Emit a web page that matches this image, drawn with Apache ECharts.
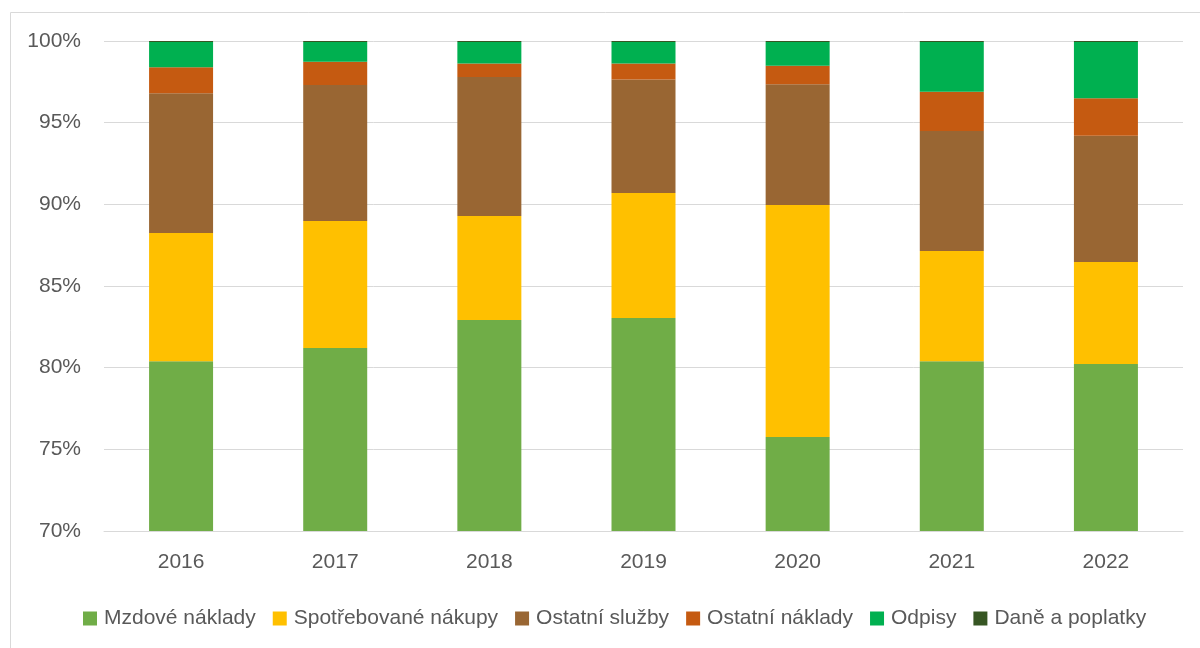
<!DOCTYPE html>
<html>
<head>
<meta charset="utf-8">
<script src="https://cdn.jsdelivr.net/npm/echarts@6/dist/echarts.min.js"></script>
<style>html,body{margin:0;padding:0;background:#fff}#c{width:1200px;height:648px}</style>
</head>
<body>
<div id="c"></div>
<script>
const years = ['2016','2017','2018','2019','2020','2021','2022'];
const mzdove = [80.40, 81.20, 82.92, 83.04, 75.75, 80.40, 80.22];
const spotrebovane = [7.84, 7.78, 6.36, 7.65, 14.21, 6.74, 6.25];
const sluzby = [8.56, 8.32, 8.52, 6.96, 7.39, 7.35, 7.73];
const ostatniNaklady = [1.60, 1.43, 0.83, 0.98, 1.14, 2.41, 2.29];
const odpisy = [1.54, 1.21, 1.31, 1.31, 1.45, 3.04, 3.45];
const dane = [0.06, 0.06, 0.06, 0.06, 0.06, 0.06, 0.06];
const yTicks = [70, 75, 80, 85, 90, 95, 100];

const names = ['Mzdové náklady','Spotřebované nákupy','Ostatní služby','Ostatní náklady','Odpisy','Daně a poplatky'];
const colors = ['#70AD47','#FFC000','#996633','#C55A11','#00B050','#375623'];
const dataSets = [mzdove, spotrebovane, sluzby, ostatniNaklady, odpisy, dane];
const font = 'Liberation Sans';

const chart = echarts.init(document.getElementById('c'));
chart.setOption({
  animation: false,
  color: colors,
  graphic: [{type:'rect', shape:{x:10.5,y:12.5,width:1200,height:648}, style:{fill:'none', stroke:'#d9d9d9', lineWidth:1}, silent:true}],
  grid: {left:104, right:17, top:41, bottom:117},
  legend: {
    top: 603, left: 78,
    itemWidth: 14, itemHeight: 14, itemGap: 17,
    icon: 'rect',
    textStyle: {fontFamily: font, fontSize: 21, color:'#595959', padding:[0,0,0,2]},
    data: names
  },
  xAxis: {
    type: 'category', data: years,
    axisLine: {lineStyle:{color:'#d9d9d9'}},
    axisTick: {show:false},
    axisLabel: {fontFamily: font, fontSize: 21, color:'#595959', margin: 21}
  },
  yAxis: {
    type: 'value', min: yTicks[0], max: yTicks[yTicks.length-1], interval: 5,
    axisLine: {show:false}, axisTick:{show:false},
    splitLine: {lineStyle:{color:'#d9d9d9', width:1}},
    axisLabel: {fontFamily: font, fontSize: 21, color:'#595959', margin: 23, formatter: '{value}%'}
  },
  series: dataSets.map((d,i)=>({
    name: names[i], type:'bar', stack:'total', data: d, barWidth: 64,
    itemStyle:{color: colors[i]}
  }))
});
</script>
</body>
</html>
